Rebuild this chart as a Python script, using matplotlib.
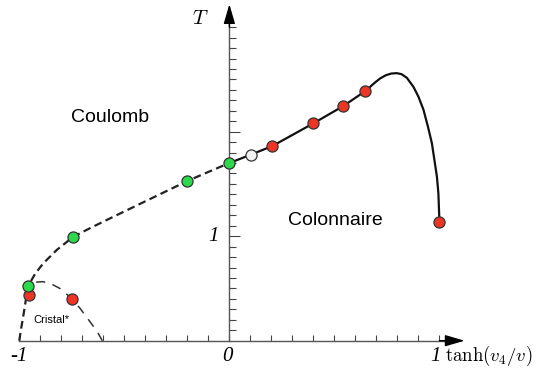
import numpy as np
import matplotlib
matplotlib.use('Agg')
import matplotlib.pyplot as plt

plt.rcParams['mathtext.fontset'] = 'cm'

# Coulomb / Colonnaire boundary (dashed part)
coulomb_x = [-1.0, -0.993, -0.984, -0.969, -0.957, -0.925, -0.886, -0.822, -0.743, -0.66, -0.584, -0.40, -0.2, -0.1, 0.0]
coulomb_T = [0.0, 0.1, 0.2, 0.39, 0.526, 0.64, 0.74, 0.868, 0.995, 1.08, 1.155, 1.334, 1.528, 1.615, 1.70]

# solid part
solid_x = [0.0, 0.102, 0.205, 0.4, 0.543, 0.648, 0.69, 0.718, 0.745, 0.77, 0.797, 0.82, 0.845, 0.876, 0.9, 0.924, 0.945, 0.964, 0.976, 0.988, 0.995, 0.998, 1.0]
solid_T = [1.70, 1.78, 1.863, 2.08, 2.246, 2.39, 2.465, 2.51, 2.54, 2.556, 2.56, 2.55, 2.515, 2.43, 2.335, 2.21, 2.05, 1.89, 1.73, 1.57, 1.41, 1.25, 1.133]

# Cristal* dome
cristal_x = [-0.92, -0.89, -0.854, -0.807, -0.76, -0.711, -0.663, -0.63, -0.605]
cristal_T = [0.56, 0.565, 0.55, 0.50, 0.42, 0.31, 0.18, 0.09, 0.0]

# simulation points
green_x = [-0.957, -0.743, -0.2, 0.0]
green_T = [0.526, 0.995, 1.528, 1.70]
red_x = [-0.952, -0.75, 0.205, 0.4, 0.543, 0.648, 1.0]
red_T = [0.437, 0.396, 1.863, 2.08, 2.246, 2.39, 1.133]
white_x = [0.102]
white_T = [1.78]

fig = plt.figure(figsize=(5.39, 3.71), dpi=100)
ax = fig.add_axes([0, 0, 1, 1])
ax.set_xlim(-1.092, 1.474)
ax.set_ylim(-0.29, 3.26)

# axes through the origin
ax.spines['top'].set_visible(False)
ax.spines['right'].set_visible(False)
ax.spines['left'].set_position(('data', 0))
ax.spines['bottom'].set_position(('data', 0))
ax.spines['left'].set_bounds(0, 3.1)
ax.spines['bottom'].set_bounds(-1, 1.05)
for s in ['left', 'bottom']:
    ax.spines[s].set_color('#555555')
    ax.spines[s].set_linewidth(1.0)

ax.set_xticks(np.round(np.arange(-1.0, 1.01, 0.1), 2))
ax.set_yticks([1.0, 2.0])
ax.set_yticks(np.round(np.arange(0.1, 3.01, 0.1), 2), minor=True)
ax.tick_params(axis='x', direction='in', length=4, width=0.8, color='#444444', labelbottom=False)
ax.tick_params(axis='y', which='major', direction='in', length=8, width=0.8, color='#444444', labelleft=False)
ax.tick_params(axis='y', which='minor', direction='in', length=5, width=0.8, color='#444444')

# arrows
ax.annotate('', xy=(1.12, 0), xytext=(1.0, 0),
            arrowprops=dict(arrowstyle='-|>,head_length=1.2,head_width=0.35', color='black', lw=1.0,
                            shrinkA=0, shrinkB=0))
ax.annotate('', xy=(0, 3.22), xytext=(0, 3.0),
            arrowprops=dict(arrowstyle='-|>,head_length=1.2,head_width=0.35', color='black', lw=1.0,
                            shrinkA=0, shrinkB=0))

# curves
ax.plot(coulomb_x, coulomb_T, color='#222222', lw=1.6, ls=(0, (3.5, 2)), zorder=3)
ax.plot(solid_x, solid_T, color='#111111', lw=1.6, zorder=3)
ax.plot(cristal_x, cristal_T, color='#333333', lw=1.1, ls=(0, (6, 5)), zorder=3)

ms = 8
ax.plot(red_x, red_T, 'o', ms=ms, mfc='#ee3524', mec='#333333', mew=0.9, zorder=4)
ax.plot(green_x, green_T, 'o', ms=ms, mfc='#2bd94a', mec='#333333', mew=0.9, zorder=5)
ax.plot(white_x, white_T, 'o', ms=ms, mfc='#f2f2f2', mec='#333333', mew=0.9, zorder=5)

# region labels
ax.text(-0.567, 2.14, 'Coulomb', fontsize=14, family='Liberation Sans', ha='center', va='center')
ax.text(0.505, 1.15, 'Colonnaire', fontsize=14, family='Liberation Sans', ha='center', va='center')
ax.text(-0.845, 0.2, 'Cristal*', fontsize=8, family='Liberation Sans', ha='center', va='center')

# axis labels and numbers
ax.text(-0.14, 3.09, '$T$', fontsize=15, ha='center', va='center')
ax.text(1.025, -0.15, r'$\tanh(v_4/v)$', fontsize=13.5, ha='left', va='center')
num = dict(fontsize=15, family='Liberation Serif', style='italic', ha='center', va='center')
ax.text(-1.0, -0.15, '-1', **num)
ax.text(-0.01, -0.15, '0', **num)
ax.text(0.98, -0.15, '1', **num)
ax.text(-0.075, 1.0, '1', **num)

fig.savefig('out.png', dpi=100)
